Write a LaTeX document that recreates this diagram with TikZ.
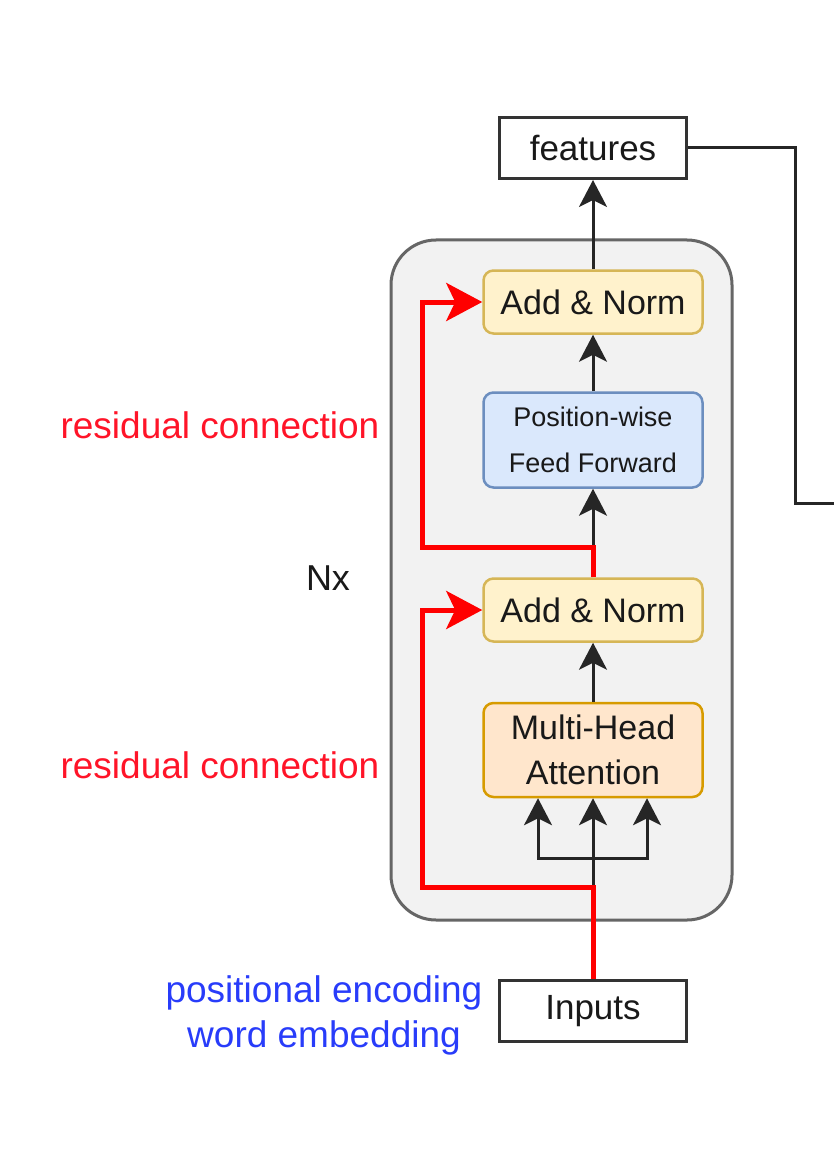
\documentclass[tikz,border=0pt]{standalone}
\usepackage{fontspec}
\setmainfont{Liberation Sans}
\usetikzlibrary{arrows.meta}
\definecolor{anfill}{HTML}{FFF2CC}
\definecolor{andraw}{HTML}{D6B656}
\definecolor{fffill}{HTML}{DAE8FC}
\definecolor{ffdraw}{HTML}{6C8EBF}
\definecolor{mhfill}{HTML}{FFE6CC}
\definecolor{mhdraw}{HTML}{D79B00}
\definecolor{cfill}{HTML}{F2F2F2}
\definecolor{cdraw}{HTML}{666666}
\definecolor{resred}{RGB}{255,20,40}
\definecolor{posblue}{RGB}{40,60,250}
\tikzset{
  txt/.style={font=\fontsize{34}{45}\selectfont, text=black!90},
  plainbox/.style={draw=black!80, line width=3pt, minimum width=187pt, minimum height=61pt, inner sep=0pt, txt, font=\fontsize{35}{45}\selectfont},
  anbox/.style={draw=andraw, fill=anfill, line width=2.5pt, rounded corners=10pt, minimum width=219pt, minimum height=63pt, inner sep=0pt, txt},
  ffbox/.style={draw=ffdraw, fill=fffill, line width=2.5pt, rounded corners=10pt, minimum width=219pt, minimum height=95pt, inner sep=0pt, txt, align=center, font=\fontsize{27}{46}\selectfont},
  mhbox/.style={draw=mhdraw, fill=mhfill, line width=2.5pt, rounded corners=10pt, minimum width=219pt, minimum height=94pt, inner sep=0pt, txt, align=center},
  blk/.style={draw=black!85, line width=3pt, -{Stealth[length=27pt,width=28pt,inset=7pt]}},
  blkline/.style={draw=black!85, line width=3pt},
  redarr/.style={draw=red, line width=5pt, -{Stealth[length=36pt,width=38pt,inset=9pt]}},
  redline/.style={draw=red, line width=5pt},
  redtxt/.style={font=\fontsize{37}{45}\selectfont, text=resred},
  bluetxt/.style={font=\fontsize{37}{45}\selectfont, text=posblue, align=center},
}
\begin{document}
\begin{tikzpicture}[x=1pt,y=-1pt]
\useasboundingbox (0,0) rectangle (834,1150);
\node[draw=cdraw, fill=cfill, line width=3pt, rounded corners=45pt, minimum width=341pt, minimum height=680pt, inner sep=0pt] (cont) at (561.5,580) {};
\node[plainbox] (feat) at (593,148) {features};
\node[plainbox] (inp) at (593,1011) {Inputs};
\node[anbox] (an2) at (593,302) {Add \& Norm};
\node[ffbox] (ff) at (593,440) {Position-wise\\Feed Forward};
\node[anbox] (an1) at (593,610) {Add \& Norm};
\node[mhbox] (mha) at (593,750) {Multi-Head\\Attention};
\node[txt, font=\fontsize{36}{45}\selectfont] (nx) at (328,578) {Nx};
\node[redtxt] (rc2) at (220,425) {residual connection};
\node[redtxt] (rc1) at (220,765) {residual connection};
\node[bluetxt] (pe) at (324,1015) {positional encoding\\word embedding};
% coordinates
\coordinate (split) at (593,858);
\coordinate (r1) at (422,887);
\coordinate (r2) at (422,547);
\coordinate (fc) at (795,503);
\coordinate (fend) at (834,503);
% black connectors
\draw[blk] (inp.north) -- (mha.south);
\draw[blk] (split) -| ([xshift=-55pt]mha.south);
\draw[blk] (split) -| ([xshift=54pt]mha.south);
\draw[blk] (mha.north) -- (an1.south);
\draw[blk] (an1.north) -- (ff.south);
\draw[blk] (ff.north) -- (an2.south);
\draw[blk] (an2.north) -- (feat.south);
\draw[blkline] (feat.east) -| (fc) -- (fend);
% red residuals
\draw[redarr] (inp.north) |- (r1) |- (an1.west);
\draw[redarr] (an1.north) |- (r2) |- (an2.west);
\end{tikzpicture}
\end{document}
